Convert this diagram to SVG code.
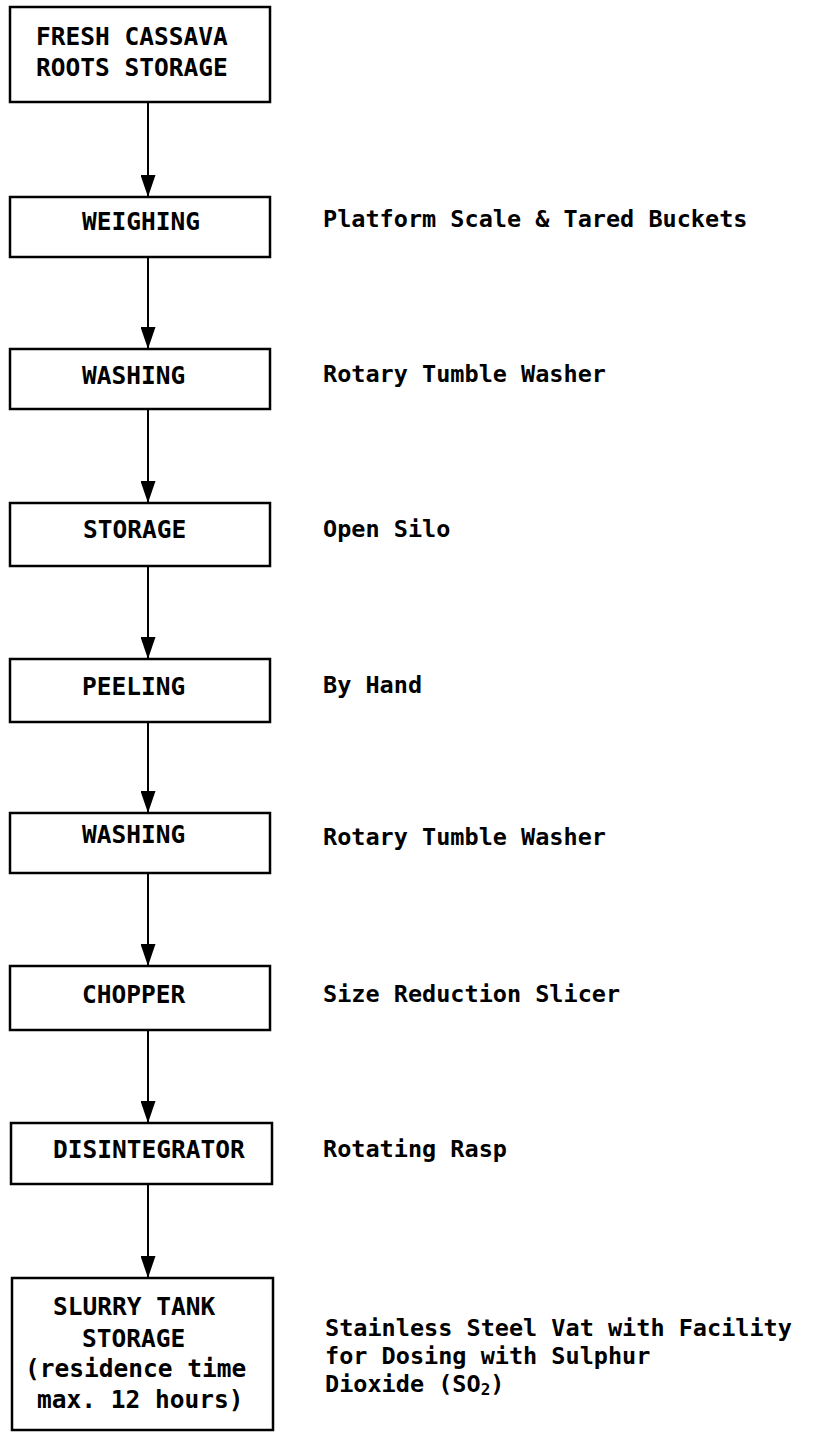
<svg xmlns="http://www.w3.org/2000/svg" width="832" height="1433" viewBox="0 0 832 1433">
<style>
.box{fill:#fff;stroke:#000;stroke-width:2.5}
.t{font-family:"DejaVu Sans Mono","Liberation Mono",monospace;font-size:24.5px;font-weight:bold;fill:#000}
.l{font-family:"DejaVu Sans Mono","Liberation Mono",monospace;font-size:23.5px;font-weight:bold;fill:#000}
.c{stroke:#000;stroke-width:2;fill:none;marker-end:url(#arr)}
</style>
<defs>
<marker id="arr" viewBox="0 0 22 15" refX="22" refY="7.5" markerWidth="22" markerHeight="15" markerUnits="userSpaceOnUse" orient="auto">
<path d="M0,0 L22,7.5 L0,15 Z" fill="#000"/>
</marker>
</defs>
<rect width="832" height="1433" fill="#fff"/>
<g id="connectors">
<path class="c" d="M148,102 V197"/>
<path class="c" d="M148,257 V349"/>
<path class="c" d="M148,409 V503"/>
<path class="c" d="M148,566 V659"/>
<path class="c" d="M148,722 V813"/>
<path class="c" d="M148,873 V966"/>
<path class="c" d="M148,1030 V1123"/>
<path class="c" d="M148,1184 V1278"/>
</g>
<g id="n1"><rect class="box" x="10" y="7" width="260" height="95"/><text class="t" x="36" y="45">FRESH CASSAVA</text><text class="t" x="36" y="76">ROOTS STORAGE</text></g>
<g id="n2"><rect class="box" x="10" y="197" width="260" height="60"/><text class="t" x="82" y="230">WEIGHING</text></g>
<g id="n3"><rect class="box" x="10" y="349" width="260" height="60"/><text class="t" x="82" y="384">WASHING</text></g>
<g id="n4"><rect class="box" x="10" y="503" width="260" height="63"/><text class="t" x="83" y="538">STORAGE</text></g>
<g id="n5"><rect class="box" x="10" y="659" width="260" height="63"/><text class="t" x="82" y="695">PEELING</text></g>
<g id="n6"><rect class="box" x="10" y="813" width="260" height="60"/><text class="t" x="82" y="843">WASHING</text></g>
<g id="n7"><rect class="box" x="10" y="966" width="260" height="64"/><text class="t" x="82" y="1003">CHOPPER</text></g>
<g id="n8"><rect class="box" x="11" y="1123" width="261" height="61"/><text class="t" x="53" y="1158">DISINTEGRATOR</text></g>
<g id="n9"><rect class="box" x="12" y="1278" width="261" height="152"/><text class="t" x="53" y="1315">SLURRY TANK</text><text class="t" x="82" y="1347">STORAGE</text><text class="t" x="25" y="1377">(residence time</text><text class="t" x="37" y="1408">max. 12 hours)</text></g>
<g id="labels">
<text class="l" x="323" y="227">Platform Scale &amp; Tared Buckets</text>
<text class="l" x="323" y="382">Rotary Tumble Washer</text>
<text class="l" x="323" y="537">Open Silo</text>
<text class="l" x="323" y="693">By Hand</text>
<text class="l" x="323" y="845">Rotary Tumble Washer</text>
<text class="l" x="323" y="1002">Size Reduction Slicer</text>
<text class="l" x="323" y="1157">Rotating Rasp</text>
<text class="l" x="325" y="1336">Stainless Steel Vat with Facility</text>
<text class="l" x="325" y="1364">for Dosing with Sulphur</text>
<text class="l" x="325" y="1392">Dioxide (SO<tspan font-size="16" dy="3">2</tspan><tspan dy="-3">)</tspan></text>
</g>
</svg>
